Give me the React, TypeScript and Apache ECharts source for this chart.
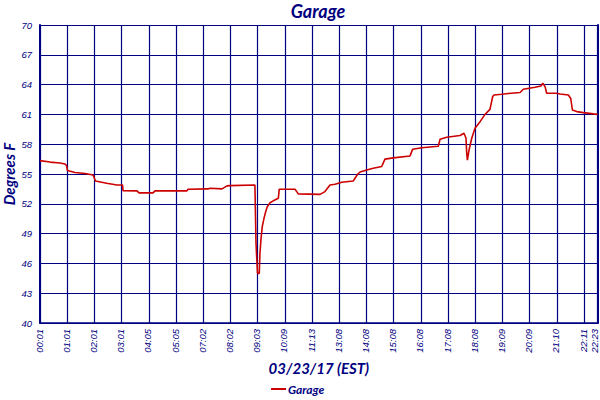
import React, { useEffect, useRef } from "react";
import * as echarts from "echarts";

const xTickLabels = [
  "00:01", "01:01", "02:01", "03:01", "04:05", "05:05", "07:02", "08:02",
  "09:03", "10:09", "11:13", "13:08", "14:08", "15:08", "16:08", "17:08",
  "18:08", "19:09", "20:09", "21:10", "22:11", "22:23",
];
const xTickPositions = [
  0, 20, 40, 60, 80, 100, 120, 140, 160, 180, 200, 220, 240, 260, 280, 300,
  320, 340, 360, 380, 400, 410,
];

const sampleIdx = [
  0, 7.4, 14.7, 18.4, 19.5, 20.2, 25.7, 33.1, 39, 40.8, 49, 56.6, 60.7, 61,
  71.3, 72.8, 83.1, 84.5, 108, 108.8, 123.5, 125, 133.8, 137.5, 139.7, 158,
  158.8, 159.9, 161.2, 161.7, 162.5, 163.4, 164.7, 165.9, 167.1, 169.1, 171.5,
  175.2, 175.9, 187.5, 189.9, 205.9, 209.5, 213.2, 216.9, 221.8, 230.3, 233.6,
  235.3, 240.2, 245, 251.2, 253.6, 259.7, 272, 274, 280.6, 292.8, 294.1, 299,
  308.8, 311.7, 313.2, 313.7, 314.2, 315.4, 317.4, 319.8, 323.5, 327.2, 330.8,
  332.8, 333.8, 339.4, 344.3, 352.9, 355.3, 363.9, 368.3, 369.6, 371.3, 372.5,
  379.9, 382.3, 388.4, 390.2, 391.4, 394.6, 399.4, 406.8, 410,
];
const temps = [
  56.35, 56.2, 56.1, 56.0, 55.85, 55.35, 55.15, 55.05, 54.9, 54.3, 54.07, 53.9,
  53.9, 53.33, 53.3, 53.1, 53.1, 53.3, 53.3, 53.47, 53.5, 53.57, 53.5, 53.8,
  53.83, 53.9, 48.0, 45.0, 45.0, 47.0, 48.5, 49.7, 50.55, 51.2, 51.7, 52.1,
  52.3, 52.55, 53.47, 53.47, 53.0, 52.95, 53.23, 53.9, 53.97, 54.17, 54.3,
  55.0, 55.2, 55.4, 55.58, 55.75, 56.5, 56.62, 56.82, 57.5, 57.65, 57.8, 58.5,
  58.7, 58.87, 59.1, 58.6, 57.1, 56.4, 57.4, 58.6, 59.6, 60.27, 61.0, 61.5,
  62.8, 62.96, 63.03, 63.1, 63.2, 63.53, 63.73, 63.86, 64.13, 63.8, 63.13,
  63.13, 63.06, 62.96, 62.6, 61.45, 61.28, 61.18, 61.05, 61.0,
];

const NAVY = "#000080";
const LINE_RED = "#cc0000";

export default function App() {
  const ref = useRef<HTMLDivElement>(null);
  useEffect(() => {
    document.body.style.margin = "0";
    if (!ref.current) return;
    const chart = echarts.init(ref.current, undefined, { renderer: "svg" });
    const data = sampleIdx.map((x, i) => [x, temps[i]]);
    const labelFont = {
      color: NAVY,
      fontStyle: "italic" as const,
      fontFamily: "Liberation Sans",
      fontSize: 9.5,
    };
    const lastIdx = xTickLabels.length - 1;
    chart.setOption({
      animation: false,
      backgroundColor: "#ffffff",
      title: {
        text: "Garage",
        left: 313,
        textAlign: "center",
        top: -3,
        textStyle: {
          color: NAVY,
          fontStyle: "italic",
          fontWeight: "bold",
          fontFamily: "Lato",
          fontSize: 18,
        },
      },
      graphic: [
        {
          type: "text",
          x: 9,
          y: 174,
          rotation: Math.PI / 2,
          style: {
            text: "Degrees F",
            fill: NAVY,
            fontStyle: "italic",
            fontWeight: "bold",
            fontFamily: "Lato",
            fontSize: 15,
            align: "center",
            verticalAlign: "middle",
          },
        },
      ],
      legend: {
        data: ["Garage"],
        top: 378,
        left: 266,
        icon: "rect",
        itemWidth: 15,
        itemHeight: 2,
        itemGap: 4,
        textStyle: {
          color: NAVY,
          fontStyle: "italic",
          fontWeight: "bold",
          fontFamily: "Lato",
          fontSize: 12,
          padding: [0, 0, 0, -3],
        },
      },
      grid: {
        left: 40,
        right: 2.3,
        top: 25,
        bottom: 77,
        containLabel: false,
        outerBoundsMode: "none",
      },
      xAxis: {
        type: "value",
        min: 0,
        max: 410,
        interval: 20,
        name: "03/23/17 (EST)",
        nameLocation: "middle",
        nameGap: 31,
        nameTextStyle: {
          color: NAVY,
          fontStyle: "italic",
          fontWeight: "bold",
          fontFamily: "Lato",
          fontSize: 15,
        },
        axisLine: { show: true, lineStyle: { color: NAVY, width: 1.5 } },
        axisTick: { show: false },
        splitLine: { show: true, lineStyle: { color: NAVY, width: 1.2 } },
        axisLabel: {
          ...labelFont,
          rotate: 90,
          margin: 6,
          showMaxLabel: true,
          showMinLabel: true,
          formatter: (v: number) => {
            const i = xTickPositions.indexOf(Math.round(v));
            if (i < 0) return "";
            return i === lastIdx
              ? "{last|" + xTickLabels[i] + "}"
              : "{n|" + xTickLabels[i] + "}";
          },
          rich: {
            n: { ...labelFont, padding: [0, 0, 2, 0] },
            last: { ...labelFont, padding: [0, 0, 6, 0] },
          },
        },
      },
      yAxis: [
        {
          type: "value",
          min: 40,
          max: 70,
          interval: 3,
          axisLine: { show: true, lineStyle: { color: NAVY, width: 2 } },
          axisTick: { show: false },
          splitLine: { show: true, lineStyle: { color: NAVY, width: 1.2 } },
          axisLabel: { ...labelFont, margin: 8 },
        },
        {
          type: "value",
          position: "right",
          min: 40,
          max: 70,
          axisLine: { show: true, lineStyle: { color: NAVY, width: 2 } },
          axisTick: { show: false },
          axisLabel: { show: false },
          splitLine: { show: false },
        },
      ],
      series: [
        {
          name: "Garage",
          type: "line",
          data,
          showSymbol: false,
          symbol: "none",
          lineStyle: { color: LINE_RED, width: 1.6 },
          itemStyle: { color: LINE_RED },
        },
      ],
    });
    return () => chart.dispose();
  }, []);
  return <div ref={ref} style={{ width: 600, height: 400 }} />;
}
